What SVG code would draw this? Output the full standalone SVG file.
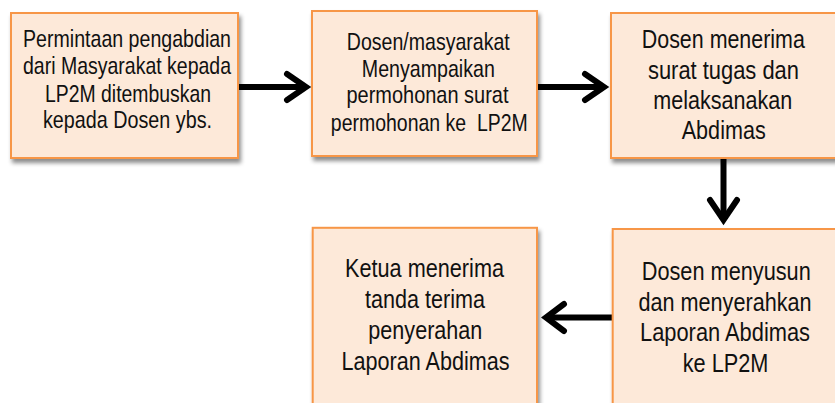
<svg xmlns="http://www.w3.org/2000/svg" width="835" height="403" viewBox="0 0 835 403">
<style>
.box{fill:#FDE9D9;stroke:#F79646;stroke-width:2;filter:url(#sh)}
.t{font-family:"Liberation Sans",Arial,sans-serif;fill:#111;text-anchor:middle}
.s{font-size:24px}
.b{font-size:26.5px}
.c{fill:none;stroke:#000;stroke-width:6}
.h{fill:none;stroke:#000;stroke-width:6;stroke-linecap:round;stroke-linejoin:miter;stroke-miterlimit:10}
</style>
<defs>
<filter id="sh" x="-10%" y="-10%" width="130%" height="130%">
<feDropShadow dx="2" dy="4" stdDeviation="2" flood-color="#000" flood-opacity="0.45"/>
</filter>
</defs>
<rect width="835" height="403" fill="#fff"/>
<g id="connectors">
<line class="c" x1="239" y1="87" x2="303" y2="87"/>
<path class="h" d="M287,74 L306,87 L287,100"/>
<line class="c" x1="538" y1="87" x2="601" y2="87"/>
<path class="h" d="M585,74 L604,87 L585,100"/>
<line class="c" x1="723.5" y1="159" x2="723.5" y2="218"/>
<path class="h" d="M710,200 L723.5,220 L737,200"/>
<line class="c" x1="612" y1="317.5" x2="549" y2="317.5"/>
<path class="h" d="M564,304 L546,317.5 L564,331"/>
</g>
<g id="n1">
<rect class="box" x="11" y="13" width="227" height="145"/>
<text class="t s" transform="translate(127 0) scale(0.82 1)"><tspan x="0" y="46.7" textLength="253.7" lengthAdjust="spacingAndGlyphs">Permintaan pengabdian</tspan><tspan x="0" y="74" textLength="253.7" lengthAdjust="spacingAndGlyphs">dari Masyarakat kepada</tspan><tspan x="1.2" y="101.7" textLength="202.4" lengthAdjust="spacingAndGlyphs">LP2M ditembuskan</tspan><tspan x="0.6" y="128" textLength="206.1" lengthAdjust="spacingAndGlyphs">kepada Dosen ybs.</tspan></text>
</g>
<g id="n2">
<rect class="box" x="312" y="11" width="225" height="145"/>
<text class="t s" transform="translate(428.3 0) scale(0.82 1)"><tspan x="0" y="50" textLength="198.8" lengthAdjust="spacingAndGlyphs">Dosen/masyarakat</tspan><tspan x="0" y="76.7" textLength="162.2" lengthAdjust="spacingAndGlyphs">Menyampaikan</tspan><tspan x="-1" y="103.5" textLength="197.6" lengthAdjust="spacingAndGlyphs">permohonan surat</tspan><tspan x="1.2" y="131" textLength="240.2" lengthAdjust="spacingAndGlyphs" xml:space="preserve">permohonan ke  LP2M</tspan></text>
</g>
<g id="n3">
<rect class="box" x="611" y="13" width="226" height="145"/>
<text class="t b" transform="translate(723.3 0) scale(0.82 1)"><tspan x="0" y="48.3" textLength="198.8" lengthAdjust="spacingAndGlyphs">Dosen menerima</tspan><tspan x="0.2" y="78.6" textLength="184.1" lengthAdjust="spacingAndGlyphs">surat tugas dan</tspan><tspan x="-0.6" y="108.9" textLength="169.5" lengthAdjust="spacingAndGlyphs">melaksanakan</tspan><tspan x="0.5" y="139.2" textLength="102.4" lengthAdjust="spacingAndGlyphs">Abdimas</tspan></text>
</g>
<g id="n4">
<rect class="box" x="312.7" y="227.8" width="224.3" height="177"/>
<text class="t b" transform="translate(425 0) scale(0.82 1)"><tspan x="-0.6" y="277.3" textLength="193.9" lengthAdjust="spacingAndGlyphs">Ketua menerima</tspan><tspan x="0" y="308" textLength="146.3" lengthAdjust="spacingAndGlyphs">tanda terima</tspan><tspan x="0.4" y="339" textLength="139" lengthAdjust="spacingAndGlyphs">penyerahan</tspan><tspan x="0.6" y="370" textLength="204.9" lengthAdjust="spacingAndGlyphs">Laporan Abdimas</tspan></text>
</g>
<g id="n5">
<rect class="box" x="612.7" y="229" width="224" height="176"/>
<text class="t b" transform="translate(725.5 0) scale(0.82 1)"><tspan x="0.9" y="280" textLength="206.1" lengthAdjust="spacingAndGlyphs">Dosen menyusun</tspan><tspan x="-0.6" y="310.6" textLength="211" lengthAdjust="spacingAndGlyphs">dan menyerahkan</tspan><tspan x="-0.6" y="341.2" textLength="207.3" lengthAdjust="spacingAndGlyphs">Laporan Abdimas</tspan><tspan x="0" y="371.8" textLength="104.5" lengthAdjust="spacingAndGlyphs">ke LP2M</tspan></text>
</g>
</svg>
